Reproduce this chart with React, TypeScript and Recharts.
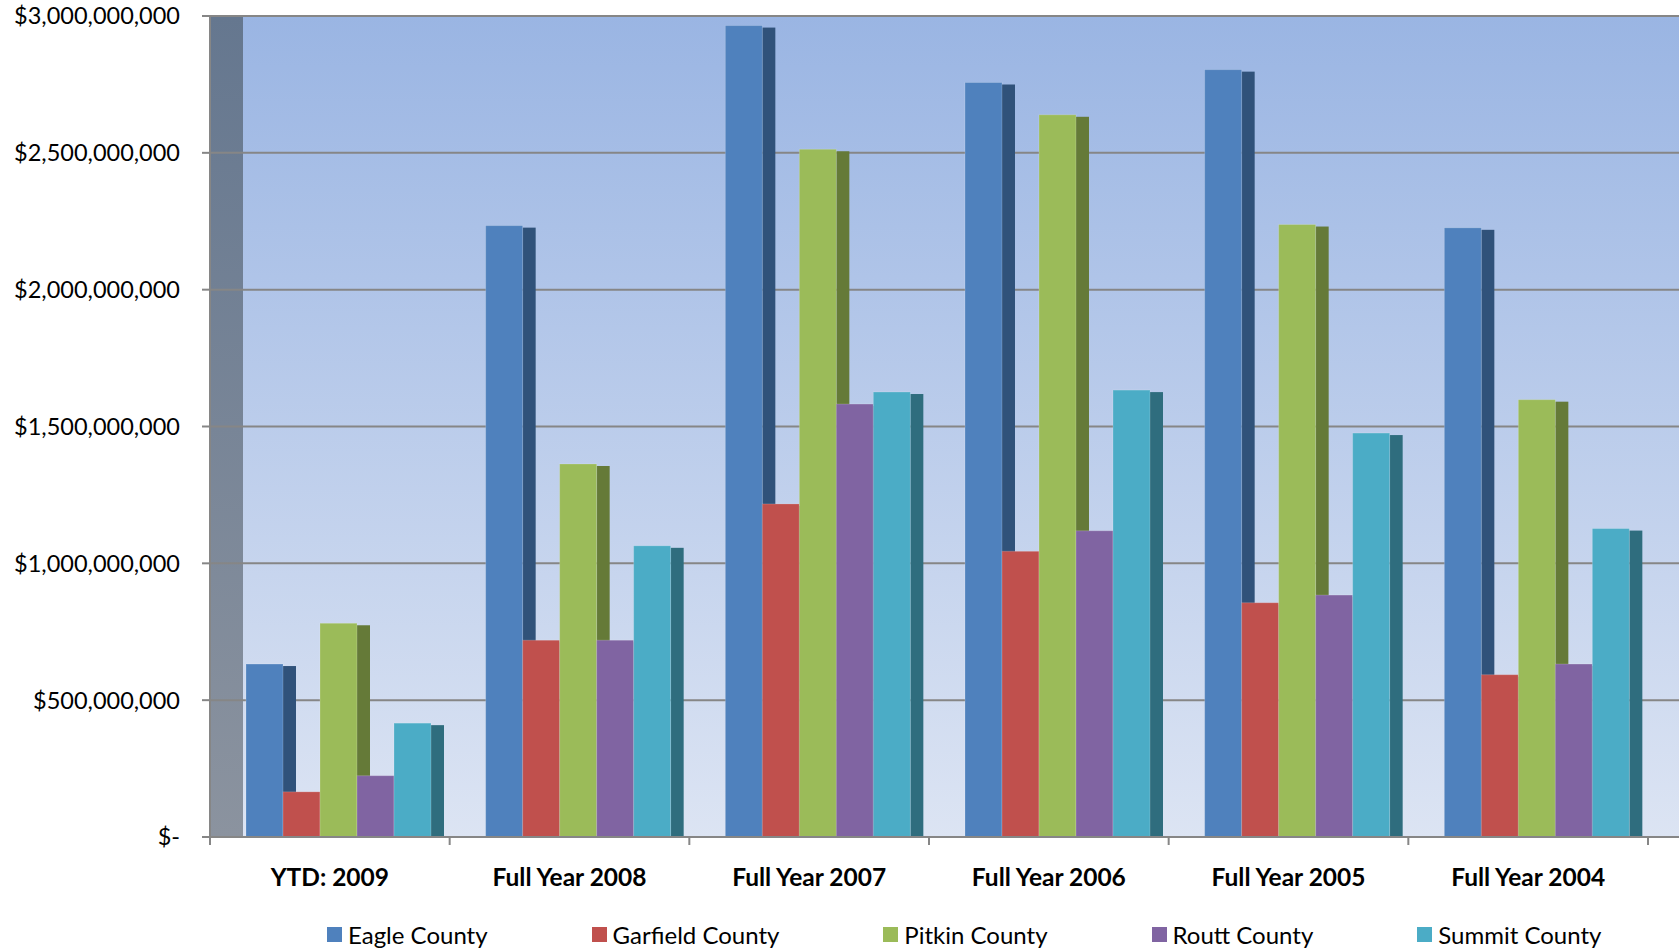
import { BarChart, Bar, XAxis, YAxis, CartesianGrid, Legend } from "recharts";

const CATEGORIES = ["YTD: 2009", "Full Year 2008", "Full Year 2007", "Full Year 2006", "Full Year 2005", "Full Year 2004"];
const EAGLE = [632e6, 2234e6, 2965e6, 2757e6, 2804e6, 2226e6];
const GARFIELD = [165e6, 719e6, 1217e6, 1044e6, 856e6, 593e6];
const PITKIN = [781e6, 1363e6, 2513e6, 2639e6, 2238e6, 1598e6];
const ROUTT = [224e6, 719e6, 1582e6, 1119e6, 884e6, 632e6];
const SUMMIT = [416e6, 1064e6, 1626e6, 1633e6, 1476e6, 1127e6];
const Y_TICKS = [0, 500e6, 1000e6, 1500e6, 2000e6, 2500e6, 3000e6];

const SERIES = [
  { key: "eagle", name: "Eagle County", values: EAGLE, color: "#4F81BD", side: "#30527A" },
  { key: "garfield", name: "Garfield County", values: GARFIELD, color: "#C0504D", side: "#7D3330" },
  { key: "pitkin", name: "Pitkin County", values: PITKIN, color: "#9BBB59", side: "#657A38" },
  { key: "routt", name: "Routt County", values: ROUTT, color: "#8064A2", side: "#52406A" },
  { key: "summit", name: "Summit County", values: SUMMIT, color: "#4BACC6", side: "#2F6D7E" },
];

const data = CATEGORIES.map((category, i) => {
  const row: Record<string, string | number> = { category };
  SERIES.forEach((s) => (row[s.key] = s.values[i]));
  return row;
});

const W = 1679;
const H = 948;
const PLOT_LEFT = 210;
const PLOT_TOP = 16;
const PLOT_BOTTOM = 837;
const WALL = 33; // depth of the left side wall
const RIGHT_PAD = 31;
const BAND = (W - PLOT_LEFT - RIGHT_PAD) / CATEGORIES.length;
const SHIFT = 9; // bars sit half way into the depth
const SIDE = 13;
const FONT = "Lato, 'Open Sans', sans-serif";
const GRID = "#868686";

const money = (v: number) => (v === 0 ? "$-" : "$" + v.toLocaleString("en-US"));

function Bar3D(props: any) {
  const { x, y, width, height, fill, side } = props;
  if (!height || height <= 0) return null;
  const fx = x + SHIFT;
  return (
    <g>
      <rect x={fx + width} y={y + 2} width={SIDE} height={height - 2} fill={side} />
      <rect x={fx} y={y} width={width} height={height} fill={fill} stroke="rgba(255,255,255,0.18)" strokeWidth={1} />
    </g>
  );
}

function CategoryTick(props: any) {
  const { x, y, payload, index } = props;
  const left = x - BAND / 2;
  const right = x + BAND / 2;
  return (
    <g>
      <line x1={left} x2={left} y1={y - 8} y2={y} stroke={GRID} strokeWidth={2} />
      {index === CATEGORIES.length - 1 && <line x1={right} x2={right} y1={y - 8} y2={y} stroke={GRID} strokeWidth={2} />}
      <text x={x} y={y + 41} textAnchor="middle" fontWeight="bold" fontSize={24.5} fill="#000" fontFamily={FONT}>
        {payload.value}
      </text>
    </g>
  );
}

function LegendContent() {
  return (
    <div style={{ display: "flex", alignItems: "center", height: 32, paddingLeft: 327, gap: 104, fontFamily: FONT, fontSize: 24, color: "#000" }}>
      {SERIES.map((s) => (
        <div key={s.key} style={{ display: "flex", alignItems: "center" }}>
          <span style={{ width: 15, height: 15, background: s.color, marginRight: 6, display: "inline-block" }} />
          <span>{s.name}</span>
        </div>
      ))}
    </div>
  );
}

export default function App() {
  return (
    <div style={{ position: "absolute", left: 0, top: 0, width: W, height: H, background: "#fff", fontFamily: FONT }}>
      {/* back wall and left side wall */}
      <div
        style={{
          position: "absolute",
          left: PLOT_LEFT + WALL,
          top: PLOT_TOP,
          width: W - PLOT_LEFT - WALL,
          height: PLOT_BOTTOM - PLOT_TOP,
          background: "linear-gradient(to bottom, #9AB5E3, #DCE4F3)",
        }}
      />
      <div
        style={{
          position: "absolute",
          left: PLOT_LEFT,
          top: PLOT_TOP,
          width: WALL,
          height: PLOT_BOTTOM - PLOT_TOP,
          background: "linear-gradient(to bottom, #65778F, #8B939F)",
        }}
      />
      <BarChart
        width={W}
        height={H}
        data={data}
        margin={{ top: PLOT_TOP, right: 0, left: 0, bottom: H - PLOT_BOTTOM - 60 }}
        barGap={0}
        barSize={37}
      >
        <CartesianGrid vertical={false} stroke={GRID} strokeWidth={2} />
        <XAxis
          dataKey="category"
          height={60}
          interval={0}
          tickLine={false}
          tickSize={8}
          tickMargin={0}
          padding={{ left: 0, right: RIGHT_PAD }}
          axisLine={{ stroke: GRID, strokeWidth: 2 }}
          tick={<CategoryTick />}
        />
        <YAxis
          width={PLOT_LEFT}
          domain={[0, 3000e6]}
          ticks={Y_TICKS}
          interval={0}
          tickFormatter={money}
          tickSize={8}
          tickMargin={22}
          tickLine={{ stroke: GRID, strokeWidth: 2 }}
          axisLine={{ stroke: GRID, strokeWidth: 2 }}
          tick={{ fontSize: 23.5, fill: "#000", fontFamily: FONT }}
        />
        <Legend
          layout="horizontal"
          verticalAlign="middle"
          align="center"
          wrapperStyle={{ top: 918, left: 0, width: W, height: 32 }}
          content={<LegendContent />}
        />
        {SERIES.map((s) => (
          <Bar
            key={s.key}
            dataKey={s.key}
            name={s.name}
            fill={s.color}
            isAnimationActive={false}
            shape={(p: any) => <Bar3D {...p} side={s.side} />}
          />
        ))}
      </BarChart>
    </div>
  );
}
